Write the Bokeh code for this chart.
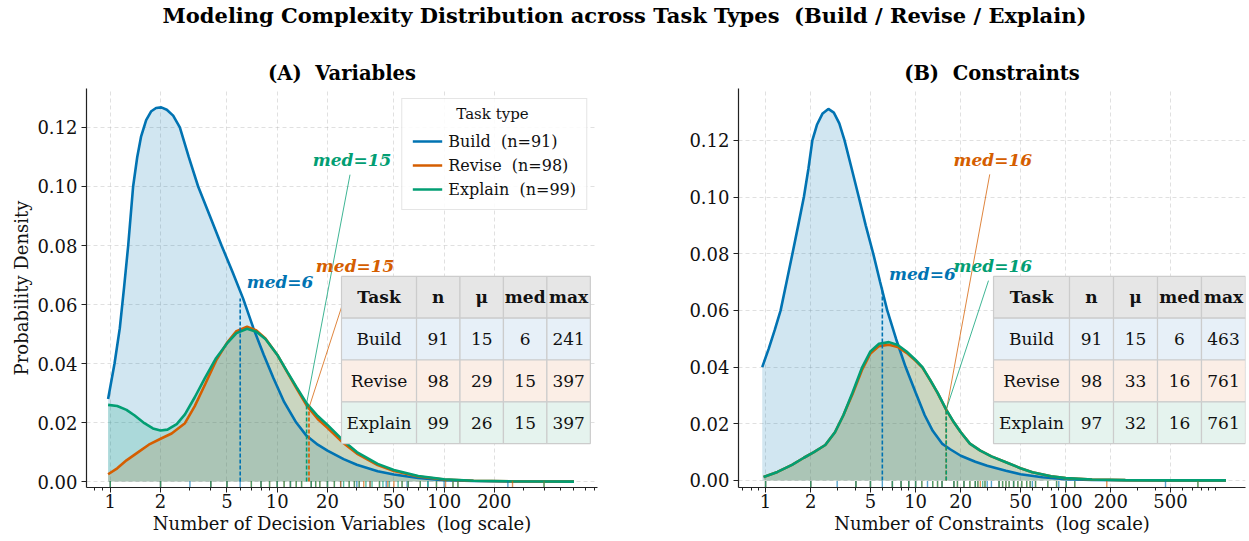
import numpy as np
from bokeh.plotting import figure
from bokeh.layouts import column, row
from bokeh.models import (Range1d, FixedTicker, PrintfTickFormatter, Label, Legend, LegendItem,
                          ColumnDataSource, LinearScale)
from bokeh.core.properties import value
from bokeh.embed import file_html
from bokeh.resources import INLINE

FONT = "DejaVu Serif"
SP2 = " \u00a0"  # visible double space

# ---------------- data ----------------
task_names = ["Build", "Revise", "Explain"]
colors = ["#0173B2", "#D55E00", "#029E73"]
row_fills = ["#e7f0f8", "#fbeee6", "#e5f3ee"]
table_header = ["Task", "n", "\u03bc", "med", "max"]

# table statistics
var_n = [91, 98, 99]
var_mean = [15, 29, 26]
var_med = [6, 15, 15]
var_max = [241, 397, 397]
con_n = [91, 98, 97]
con_mean = [15, 33, 32]
con_med = [6, 16, 16]
con_max = [463, 761, 761]

# KDE curves, panel A (decision variables)
var_build_x = [0.97, 1.06, 1.14, 1.21, 1.28, 1.37, 1.45, 1.53, 1.64, 1.76, 1.88, 2.02, 2.18, 2.38, 2.61, 2.95,
               3.36, 3.95, 4.64, 5.4, 6.25, 7.2, 8.3, 9.5, 11.0, 13.0, 15.0, 17.5, 20.0, 25.0, 30.0, 40.0,
               50.0, 70.0, 100.0, 150.0, 250.0, 400.0, 600.0]
var_build_y = [0.028, 0.040, 0.052, 0.066, 0.080, 0.100, 0.110, 0.117, 0.1225, 0.1255, 0.1266, 0.1268, 0.126,
               0.124, 0.120, 0.110, 0.100, 0.090, 0.080, 0.071, 0.062, 0.052, 0.043, 0.035, 0.027, 0.020,
               0.0155, 0.0125, 0.0105, 0.0076, 0.0057, 0.0035, 0.0024, 0.0012, 0.0005, 0.0002, 0.00006,
               0.00002, 0.0]
var_revise_x = [0.97, 1.1, 1.25, 1.47, 1.7, 2.03, 2.33, 2.8, 3.2, 3.7, 4.3, 5.0, 5.7, 6.6, 7.5, 8.5, 10.0,
                11.5, 13.0, 15.0, 17.5, 20.0, 25.0, 30.0, 40.0, 50.0, 70.0, 100.0, 150.0, 250.0, 400.0, 600.0]
var_revise_y = [0.0025, 0.0045, 0.0072, 0.0100, 0.0125, 0.0147, 0.0163, 0.0198, 0.0255, 0.0330, 0.0410,
                0.0470, 0.0510, 0.0525, 0.0512, 0.0485, 0.0430, 0.0370, 0.0318, 0.0258, 0.0212, 0.0182,
                0.0130, 0.0095, 0.0056, 0.0036, 0.0017, 0.0007, 0.0003, 0.0001, 0.00003, 0.0]
var_explain_x = [0.97, 1.1, 1.25, 1.4, 1.6, 1.8, 2.0, 2.2, 2.5, 2.8, 3.2, 3.7, 4.3, 5.0, 5.7, 6.6, 7.5, 8.5,
                 10.0, 11.5, 13.0, 15.0, 17.5, 20.0, 25.0, 30.0, 40.0, 50.0, 70.0, 100.0, 150.0, 250.0,
                 400.0, 600.0]
var_explain_y = [0.0260, 0.0256, 0.0243, 0.0224, 0.0198, 0.0180, 0.0173, 0.0176, 0.0195, 0.0228, 0.0285,
                 0.0352, 0.0418, 0.0468, 0.0503, 0.0518, 0.0508, 0.0483, 0.0430, 0.0372, 0.0322, 0.0265,
                 0.0222, 0.0192, 0.0138, 0.0100, 0.0060, 0.0039, 0.0019, 0.0008, 0.0003, 0.0001, 0.00003, 0.0]

# KDE curves, panel B (constraints)
con_build_x = [0.95, 1.05, 1.15, 1.26, 1.38, 1.51, 1.65, 1.8, 1.93, 2.05, 2.2, 2.4, 2.62, 2.85, 3.1, 3.36,
               3.75, 4.18, 4.65, 5.22, 5.8, 6.47, 7.4, 8.58, 10.0, 11.5, 13.0, 15.0, 17.0, 20.0, 25.0, 30.0,
               40.0, 50.0, 70.0, 100.0, 150.0, 250.0, 500.0, 1170.0]
con_build_y = [0.040, 0.0465, 0.053, 0.060, 0.070, 0.080, 0.090, 0.100, 0.110, 0.120, 0.1255, 0.1295, 0.1311,
               0.1298, 0.126, 0.120, 0.110, 0.100, 0.090, 0.080, 0.070, 0.060, 0.050, 0.040, 0.031, 0.023,
               0.0175, 0.0130, 0.0110, 0.0087, 0.0066, 0.0052, 0.0034, 0.0022, 0.0011, 0.0004, 0.00015,
               0.00004, 0.00001, 0.0]
con_revise_x = [0.97, 1.2, 1.5, 1.8, 2.1, 2.5, 2.9, 3.3, 3.8, 4.41, 5.0, 5.7, 6.64, 7.6, 8.7, 10.0, 11.1,
                12.5, 14.0, 16.0, 18.0, 20.0, 23.0, 27.0, 32.0, 40.0, 50.0, 60.0, 80.0, 100.0, 150.0, 250.0,
                500.0, 1170.0]
con_revise_y = [0.0012, 0.0030, 0.0055, 0.0080, 0.0100, 0.0125, 0.0170, 0.0230, 0.0305, 0.0392, 0.0448,
                0.0474, 0.0479, 0.0471, 0.0450, 0.0422, 0.0398, 0.0354, 0.0309, 0.0249, 0.0204, 0.0170,
                0.0130, 0.0105, 0.0085, 0.0064, 0.0043, 0.0029, 0.0015, 0.0008, 0.0003, 0.0001, 0.00002, 0.0]
con_explain_x = [0.97, 1.2, 1.5, 1.8, 2.1, 2.5, 2.9, 3.3, 3.8, 4.41, 5.0, 5.7, 6.64, 7.6, 8.7, 10.0, 11.1,
                 12.5, 14.0, 16.0, 18.0, 20.0, 23.0, 27.0, 32.0, 40.0, 50.0, 60.0, 80.0, 100.0, 150.0, 250.0,
                 500.0, 1170.0]
con_explain_y = [0.0012, 0.0030, 0.0055, 0.0080, 0.0100, 0.0125, 0.0170, 0.0230, 0.0310, 0.0400, 0.0455,
                 0.0482, 0.0488, 0.0478, 0.0455, 0.0425, 0.0400, 0.0355, 0.0310, 0.0250, 0.0205, 0.0170,
                 0.0130, 0.0105, 0.0085, 0.0064, 0.0043, 0.0029, 0.0015, 0.0008, 0.0003, 0.0001, 0.00002, 0.0]

# rug values (observations)
var_rug_build = [1, 2, 3, 4, 5, 6, 8, 10, 12, 16, 20, 24, 30, 36, 45, 60, 80, 100, 241]
var_rug_revise = [1, 2, 4, 5, 7, 8, 9, 10, 11, 12, 13, 14, 16, 17, 18, 20, 22, 24, 27, 29, 31, 33, 36, 41,
                  46, 50, 56, 61, 72, 90, 102, 113, 121, 257, 397]
var_rug_explain = [1, 2, 4, 5, 7, 8, 9, 10, 11, 12, 13, 14, 16, 17, 18, 20, 22, 25, 27, 29, 31, 34, 37, 41,
                   43, 47, 53, 56, 61, 72, 80, 90, 113, 121, 397]
con_rug_build = [1, 2, 3, 4, 5, 6, 7, 8, 9, 10, 12, 15, 18, 21, 25, 30, 32, 36, 45, 60, 90, 101, 463]
con_rug_revise = [1, 2, 4, 5, 7, 8, 9, 10, 11, 13, 14, 15, 18, 19, 21, 23, 25, 26, 27, 29, 36, 38, 40, 42,
                  45, 48, 51, 55, 58, 63, 76, 87, 101, 115, 188, 761]
con_rug_explain = [1, 2, 4, 5, 7, 8, 9, 10, 11, 13, 14, 15, 18, 19, 21, 23, 25, 26, 28, 29, 36, 38, 40, 42,
                   45, 48, 51, 55, 58, 63, 76, 87, 101, 115, 761]

# median marker positions / heights and annotation anchors
var_med_pos = [6, 15.5, 15]
var_med_top = [0.062, 0.025, 0.0265]
var_ann_x = [10.4, 29.3, 28.1]
var_ann_y = [0.0678, 0.0732, 0.109]
var_lead_x = [None, 27.3, 27.3]
var_lead_y = [None, 0.068, 0.104]
con_med_pos = [6, 16, 16]
con_med_top = [0.068, 0.0245, 0.025]
con_ann_x = [11.1, 32.7, 32.7]
con_ann_y = [0.073, 0.1129, 0.0758]
con_lead_x = [None, 31.2, 30.6]
con_lead_y = [None, 0.108, 0.0705]

var_ticks = [1, 2, 5, 10, 20, 50, 100, 200]
con_ticks = [1, 2, 5, 10, 20, 50, 100, 200, 500]
y_ticks = [0.0, 0.02, 0.04, 0.06, 0.08, 0.10, 0.12]
col_w = [76, 44, 44, 44, 44]
legend_title = "Task type"


def minor_ticks(lo, hi, majors):
    out = []
    for d in range(-1, 4):
        for k in range(1, 10):
            v = k * 10 ** d
            if lo <= v <= hi and v not in majors:
                out.append(v)
    return out


def panel(title, xlabel, ylabel, xr, yr, xticks, curves, rugs, med_pos, med_top, med_vals,
          ann_x, ann_y, lead_x, lead_y, stats, tbl_box, width, bl, br, legend_ns=None):
    p = figure(width=width, height=505, x_axis_type="log",
               x_range=Range1d(*xr), y_range=Range1d(*yr),
               toolbar_location=None, output_backend="svg",
               min_border_left=bl, min_border_right=br, min_border_top=52, min_border_bottom=54)
    p.outline_line_color = None
    p.background_fill_color = "white"
    p.title.text = title
    p.title.align = "center"
    p.title.text_font = FONT
    p.title.text_font_size = "19.5px"
    p.title.text_font_style = "bold"
    p.title.text_color = "black"
    p.title.standoff = 8

    # axes
    p.xaxis.ticker = FixedTicker(ticks=xticks, minor_ticks=minor_ticks(xr[0], xr[1], xticks))
    p.xaxis.formatter = PrintfTickFormatter(format="%d")
    p.yaxis.ticker = FixedTicker(ticks=y_ticks, minor_ticks=[])
    p.yaxis.formatter = PrintfTickFormatter(format="%.2f")
    p.xgrid.ticker = FixedTicker(ticks=xticks)
    p.ygrid.ticker = FixedTicker(ticks=y_ticks)
    for ax in (p.xaxis, p.yaxis):
        ax.axis_line_color = "#222222"
        ax.axis_line_width = 1.2
        ax.major_tick_line_color = "#222222"
        ax.minor_tick_line_color = "#222222"
        ax.major_tick_out = 5
        ax.major_tick_in = 0
        ax.minor_tick_out = 3
        ax.minor_tick_in = 0
        ax.major_label_text_font = FONT
        ax.major_label_text_font_size = "18px"
        ax.major_label_text_color = "#111111"
        ax.axis_label_text_font = FONT
        ax.axis_label_text_font_size = "18px"
        ax.axis_label_text_font_style = "normal"
        ax.axis_label_text_color = "#111111"
        ax.major_label_standoff = 1
        ax.axis_label_standoff = 2
    p.yaxis.minor_tick_out = 0
    p.yaxis.major_label_standoff = 4
    p.xaxis.axis_label = xlabel
    if ylabel:
        p.yaxis.axis_label = ylabel
    for g in (p.xgrid, p.ygrid):
        g.grid_line_color = "#b8b8b8"
        g.grid_line_alpha = 0.55
        g.grid_line_dash = "4 3"
        g.grid_line_width = 0.8

    p.extra_x_ranges = {"tf": Range1d(0, 1)}
    p.extra_y_ranges = {"tf": Range1d(0, 1)}
    p.extra_x_scales = {"tf": LinearScale()}
    p.extra_y_scales = {"tf": LinearScale()}

    # fills
    for (cx, cy), c in zip(curves, colors):
        p.varea(x=cx, y1=[0.0] * len(cx), y2=cy, fill_color=c, fill_alpha=0.18)
    # lines
    line_rs = []
    for (cx, cy), c in zip(curves, colors):
        line_rs.append(p.line(cx, cy, line_color=c, line_width=2.6))

    # rug
    yspan = yr[1] - yr[0]
    rb, rt = yr[0], yr[0] + 0.016 * yspan
    for vals, c in zip(rugs, colors):
        p.segment(x0=vals, y0=[rb] * len(vals), x1=vals, y1=[rt] * len(vals),
                  line_color=c, line_alpha=0.65, line_width=1.4)

    # median lines, leaders and labels
    for i, c in enumerate(colors):
        p.segment(x0=[med_pos[i]], y0=[0.0], x1=[med_pos[i]], y1=[med_top[i]],
                  line_color=c, line_width=1.6, line_dash="4 2")
    for i, c in enumerate(colors):
        if lead_x[i] is not None:
            p.segment(x0=[lead_x[i]], y0=[lead_y[i]], x1=[med_pos[i]], y1=[med_top[i]],
                      line_color=c, line_width=0.9, line_alpha=0.85)
    for i, c in enumerate(colors):
        p.text(x=[ann_x[i]], y=[ann_y[i]], text=[f"med={med_vals[i]}"], text_color=c,
               text_font=value(FONT), text_font_size="17px", text_font_style="bold italic",
               text_align="center", text_baseline="middle")

    # stats table (axes-fraction coordinates)
    x0, x1, y0, y1 = tbl_box
    tot = float(sum(col_w))
    edges = [x0]
    for w in col_w:
        edges.append(edges[-1] + (x1 - x0) * w / tot)
    rh = (y1 - y0) / 4.0
    rows_txt = [table_header] + [[task_names[i]] + [str(s[i]) for s in stats] for i in range(3)]
    fills = ["#e6e6e6"] + row_fills
    L, R, T, B, F = [], [], [], [], []
    tx, ty, tt, tw = [], [], [], []
    for r in range(4):
        top = y1 - r * rh
        for cidx in range(5):
            L.append(edges[cidx]); R.append(edges[cidx + 1]); T.append(top); B.append(top - rh)
            F.append(fills[r])
            tx.append((edges[cidx] + edges[cidx + 1]) / 2); ty.append(top - rh / 2)
            tt.append(rows_txt[r][cidx]); tw.append("bold" if r == 0 else "normal")
    p.quad(left=L, right=R, top=T, bottom=B, fill_color=F, line_color="#cccccc", line_width=1.2,
           x_range_name="tf", y_range_name="tf")
    src = ColumnDataSource(dict(x=tx, y=ty, t=tt, w=tw))
    p.text(x="x", y="y", text="t", source=src, text_font_style="w", text_font=value(FONT),
           text_font_size="17px", text_color="#111111", text_align="center", text_baseline="middle",
           x_range_name="tf", y_range_name="tf")

    if legend_ns is not None:
        # semi-transparent white backing for the legend box
        p.quad(left=[0.6164], right=[0.9804], top=[0.975], bottom=[0.699], fill_color="white",
               fill_alpha=0.85, line_color=None, x_range_name="tf", y_range_name="tf")
        items = [LegendItem(label=f"{task_names[i]}{SP2}(n={legend_ns[i]})", renderers=[line_rs[i]])
                 for i in range(3)]
        leg = Legend(items=items, location="top_right", title="\u00a0")
        leg.title_text_font = FONT
        leg.title_text_font_size = "15px"
        leg.title_text_font_style = "normal"
        leg.title_standoff = 4
        leg.label_text_font = FONT
        leg.label_text_font_size = "16px"
        leg.label_text_color = "#111111"
        leg.glyph_width = 30
        leg.glyph_height = 20
        leg.label_height = 20
        leg.spacing = 4
        leg.padding = 10
        leg.margin = 10
        leg.label_standoff = 6
        leg.border_line_color = "#cccccc"
        leg.border_line_width = 1.2
        leg.background_fill_alpha = 0.0
        p.add_layout(leg)
        # centred legend title
        p.add_layout(Label(x=0.7945, y=0.935, x_range_name="tf", y_range_name="tf", text=legend_title,
                           text_align="center", text_baseline="middle", text_font=FONT,
                           text_font_size="15px", text_color="#111111"))
    return p


p1 = panel(f"(A){SP2}Variables", f"Number of Decision Variables{SP2}(log scale)", "Probability Density",
           (0.72, 830), (-0.002, 0.1332), var_ticks,
           [(var_build_x, var_build_y), (var_revise_x, var_revise_y), (var_explain_x, var_explain_y)],
           [var_rug_build, var_rug_revise, var_rug_explain],
           var_med_pos, var_med_top, var_med, var_ann_x, var_ann_y, var_lead_x, var_lead_y,
           [var_n, var_mean, var_med, var_max], (0.499, 0.986, 0.110, 0.529),
           660, 86, 63, legend_ns=var_n)

p2 = panel(f"(B){SP2}Constraints", f"Number of Constraints{SP2}(log scale)", None,
           (0.66, 1580), (-0.0025, 0.1383), con_ticks,
           [(con_build_x, con_build_y), (con_revise_x, con_revise_y), (con_explain_x, con_explain_y)],
           [con_rug_build, con_rug_revise, con_rug_explain],
           con_med_pos, con_med_top, con_med, con_ann_x, con_ann_y, con_lead_x, con_lead_y,
           [con_n, con_mean, con_med, con_max], (0.503, 1.0, 0.110, 0.529),
           589, 78, 4)

pt = figure(width=1249, height=36, x_range=Range1d(0, 36), y_range=Range1d(0, 36), title=None,
            toolbar_location=None, output_backend="svg", min_border=0,
            x_axis_location=None, y_axis_location=None)
pt.grid.visible = False
pt.outline_line_color = None
pt.add_layout(Label(x=624, y=21, x_units="screen", y_units="screen",
                    text=f"Modeling Complexity Distribution across Task Types{SP2}(Build / Revise / Explain)",
                    text_align="center", text_baseline="alphabetic", text_font=FONT, text_font_size="21px",
                    text_font_style="bold", text_color="black"))

layout = column(pt, row(p1, p2))
open("out.html", "w").write(file_html(layout, INLINE))
